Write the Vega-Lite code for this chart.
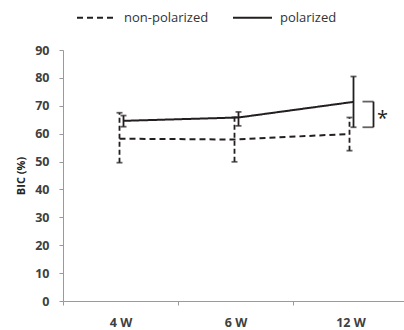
{
  "$schema": "https://vega.github.io/schema/vega-lite/v6.json",
  "width": 345,
  "height": 251,
  "autosize": "none",
  "padding": {"left": 63, "top": 50, "right": 0, "bottom": 29},
  "config": {
    "view": {"stroke": null},
    "font": "Open Sans",
    "axis": {"grid": false, "domainColor": "#9a9a9a", "tickColor": "#9a9a9a", "tickSize": 4, "labelFontWeight": "bold", "labelFontSize": 12.5, "labelColor": "#404040"},
    "axisY": {"labelPadding": 10, "labelOverlap": false, "titleFontSize": 11, "titleFontWeight": "bold", "titleColor": "#222222", "titlePadding": 8}
  },
  "datasets": {
    "bic": [
      {"week": "4 W", "series": "non-polarized", "mean": 58.2, "lo": 49.6, "hi": 67.5},
      {"week": "6 W", "series": "non-polarized", "mean": 57.9, "lo": 49.9, "hi": 65.9},
      {"week": "12 W", "series": "non-polarized", "mean": 59.9, "lo": 53.9, "hi": 65.8},
      {"week": "4 W", "series": "polarized", "mean": 64.6, "lo": 62.5, "hi": 66.5},
      {"week": "6 W", "series": "polarized", "mean": 65.8, "lo": 62.8, "hi": 67.8},
      {"week": "12 W", "series": "polarized", "mean": 71.4, "lo": 62.3, "hi": 80.5}
    ],
    "sig": [{"week": "12 W", "top": 71.5, "bottom": 62.3, "star": 66.9, "label": "*"}]
  },
  "encoding": {
    "x": {
      "field": "week", "type": "ordinal", "sort": ["4 W", "6 W", "12 W"],
      "scale": {"paddingInner": 0, "paddingOuter": 0},
      "axis": {"title": null, "labelAngle": 0, "tickBand": "extent", "labelPadding": 11}
    }
  },
  "layer": [
    {
      "data": {"name": "bic"},
      "transform": [{"filter": "datum.series == 'non-polarized'"}],
      "mark": {"type": "rule", "strokeDash": [5, 3], "strokeWidth": 1.8, "color": "#231f20", "xOffset": -1},
      "encoding": {
        "y": {"field": "lo", "type": "quantitative", "title": "BIC (%)", "scale": {"domain": [0, 90]},
              "axis": {"values": [0,10,20,30,40,50,60,70,80,90]}},
        "y2": {"field": "hi"}
      }
    },
    {
      "data": {"name": "bic"},
      "transform": [{"filter": "datum.series == 'non-polarized'"}],
      "mark": {"type": "tick", "size": 6, "thickness": 1.8, "color": "#231f20", "xOffset": -1},
      "encoding": {"y": {"field": "lo", "type": "quantitative", "title": "BIC (%)", "axis": {"values": [0,10,20,30,40,50,60,70,80,90]}}}
    },
    {
      "data": {"name": "bic"},
      "transform": [{"filter": "datum.series == 'non-polarized'"}],
      "mark": {"type": "tick", "size": 6, "thickness": 1.8, "color": "#231f20", "xOffset": -1},
      "encoding": {"y": {"field": "hi", "type": "quantitative", "title": "BIC (%)", "axis": {"values": [0,10,20,30,40,50,60,70,80,90]}}}
    },
    {
      "data": {"name": "bic"},
      "transform": [{"filter": "datum.series == 'polarized'"}],
      "mark": {"type": "rule", "strokeWidth": 1.8, "color": "#231f20", "xOffset": 3},
      "encoding": {
        "y": {"field": "lo", "type": "quantitative", "title": "BIC (%)", "axis": {"values": [0,10,20,30,40,50,60,70,80,90]}},
        "y2": {"field": "hi"}
      }
    },
    {
      "data": {"name": "bic"},
      "transform": [{"filter": "datum.series == 'polarized'"}],
      "mark": {"type": "tick", "size": 6, "thickness": 1.8, "color": "#231f20", "xOffset": 3},
      "encoding": {"y": {"field": "lo", "type": "quantitative", "title": "BIC (%)", "axis": {"values": [0,10,20,30,40,50,60,70,80,90]}}}
    },
    {
      "data": {"name": "bic"},
      "transform": [{"filter": "datum.series == 'polarized'"}],
      "mark": {"type": "tick", "size": 6, "thickness": 1.8, "color": "#231f20", "xOffset": 3},
      "encoding": {"y": {"field": "hi", "type": "quantitative", "title": "BIC (%)", "axis": {"values": [0,10,20,30,40,50,60,70,80,90]}}}
    },
    {
      "data": {"name": "bic"},
      "transform": [{"filter": "datum.series == 'non-polarized'"}],
      "mark": {"type": "line", "strokeWidth": 2, "color": "#231f20", "xOffset": -1},
      "encoding": {
        "y": {"field": "mean", "type": "quantitative", "title": "BIC (%)", "axis": {"values": [0,10,20,30,40,50,60,70,80,90]}},
        "strokeDash": {
          "field": "series", "type": "nominal",
          "scale": {"domain": ["non-polarized", "polarized"], "range": [[6, 4], [1, 0]]},
          "legend": {"title": null, "orient": "none", "legendX": 13, "legendY": -53, "direction": "horizontal",
                     "symbolType": "stroke", "symbolSize": 1520, "symbolStrokeWidth": 2, "symbolStrokeColor": "#231f20",
                     "labelFontSize": 13, "labelColor": "#333333", "labelOffset": 7, "columnPadding": 20}
        }
      }
    },
    {
      "data": {"name": "bic"},
      "transform": [{"filter": "datum.series == 'polarized'"}],
      "mark": {"type": "line", "strokeWidth": 2, "color": "#231f20", "xOffset": 3},
      "encoding": {
        "y": {"field": "mean", "type": "quantitative", "title": "BIC (%)", "axis": {"values": [0,10,20,30,40,50,60,70,80,90]}},
        "strokeDash": {"field": "series", "type": "nominal"}
      }
    },
    {
      "data": {"name": "sig"},
      "mark": {"type": "rule", "strokeWidth": 1.8, "color": "#231f20", "xOffset": 23},
      "encoding": {
        "y": {"field": "bottom", "type": "quantitative", "title": "BIC (%)", "axis": {"values": [0,10,20,30,40,50,60,70,80,90]}},
        "y2": {"field": "top"}
      }
    },
    {
      "data": {"name": "sig"},
      "mark": {"type": "tick", "size": 11, "thickness": 1.8, "color": "#231f20", "xOffset": 17.5},
      "encoding": {"y": {"field": "top", "type": "quantitative", "title": "BIC (%)", "axis": {"values": [0,10,20,30,40,50,60,70,80,90]}}}
    },
    {
      "data": {"name": "sig"},
      "mark": {"type": "tick", "size": 11, "thickness": 1.8, "color": "#231f20", "xOffset": 17.5},
      "encoding": {"y": {"field": "bottom", "type": "quantitative", "title": "BIC (%)", "axis": {"values": [0,10,20,30,40,50,60,70,80,90]}}}
    },
    {
      "data": {"name": "sig"},
      "mark": {"type": "text", "fontSize": 20, "color": "#231f20", "xOffset": 32, "dy": 5, "baseline": "middle", "align": "center"},
      "encoding": {
        "y": {"field": "star", "type": "quantitative", "title": "BIC (%)", "axis": {"values": [0,10,20,30,40,50,60,70,80,90]}},
        "text": {"field": "label"}
      }
    }
  ]
}
